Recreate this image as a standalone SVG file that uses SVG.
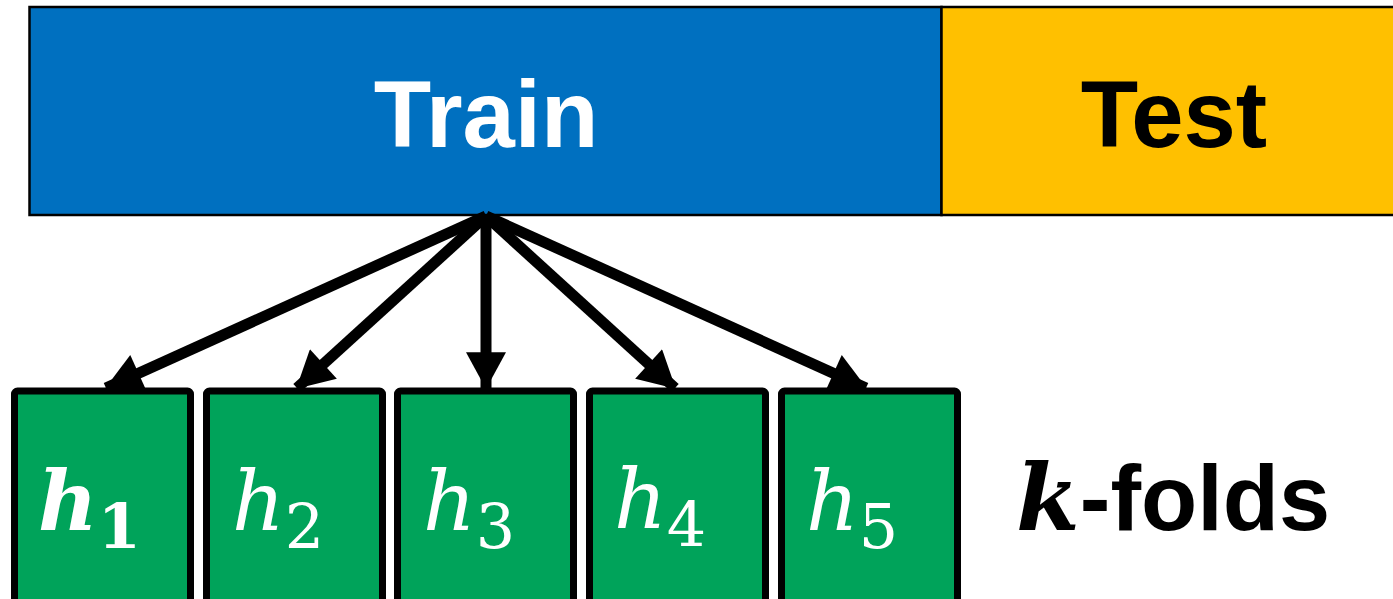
<svg xmlns="http://www.w3.org/2000/svg" width="1393" height="599" viewBox="0 0 1393 599">
<style>
.bar{stroke:#000;stroke-width:2.5}
.lbl{font-family:"Liberation Sans",Arial,sans-serif;font-weight:bold;font-size:94px;text-anchor:middle}
.fold{fill:#00A35A;stroke:#000;stroke-width:7}
.h{font-family:"DejaVu Serif","Liberation Serif",serif;font-style:italic;fill:#fff;font-size:82px}
.sub{font-family:"DejaVu Serif","Liberation Serif",serif;fill:#fff;font-size:62px}
.conn{stroke:#000;stroke-width:11;fill:none;marker-end:url(#ah)}
</style>
<defs>
<marker id="ah" markerUnits="userSpaceOnUse" markerWidth="40" markerHeight="40" viewBox="0 0 34 37" refX="33" refY="18.5" orient="auto">
<path d="M0,0 L34,18.5 L0,37 z" fill="#000"/>
</marker>
</defs>
<g id="train"><rect class="bar" x="29.5" y="7" width="912" height="208" fill="#0070C0"/><text class="lbl" x="486" y="147" fill="#fff">Train</text></g>
<g id="test"><rect class="bar" x="941.5" y="7" width="470" height="208" fill="#FFC000"/><text class="lbl" x="1174" y="147" fill="#000">Test</text></g>
<g id="connectors">
<line class="conn" x1="486" y1="216" x2="106" y2="388"/>
<line class="conn" x1="486" y1="216" x2="297" y2="388"/>
<line class="conn" x1="486" y1="216" x2="486" y2="388"/>
<line class="conn" x1="486" y1="216" x2="675" y2="388"/>
<line class="conn" x1="486" y1="216" x2="866" y2="388"/>
</g>
<g id="h1"><rect class="fold" x="14.5" y="391" width="176" height="220" rx="3"/><text x="38" y="530"><tspan class="h" font-weight="bold">h</tspan><tspan class="sub" font-weight="bold" dy="18">1</tspan></text></g>
<g id="h2"><rect class="fold" x="206.5" y="391" width="176" height="220" rx="3"/><text x="232" y="530"><tspan class="h">h</tspan><tspan class="sub" dy="18">2</tspan></text></g>
<g id="h3"><rect class="fold" x="397.5" y="391" width="176" height="220" rx="3"/><text x="423" y="530"><tspan class="h">h</tspan><tspan class="sub" dy="18">3</tspan></text></g>
<g id="h4"><rect class="fold" x="589.5" y="391" width="176" height="220" rx="3"/><text x="614" y="528"><tspan class="h">h</tspan><tspan class="sub" dy="18">4</tspan></text></g>
<g id="h5"><rect class="fold" x="781.5" y="391" width="176" height="220" rx="3"/><text x="806" y="530"><tspan class="h">h</tspan><tspan class="sub" dy="18">5</tspan></text></g>
<g id="kfolds"><text x="1016" y="530" font-size="92"><tspan font-family="DejaVu Serif,'Liberation Serif',serif" font-style="italic" font-weight="bold">k</tspan><tspan font-family="'Liberation Sans',Arial,sans-serif" font-weight="bold">-folds</tspan></text></g>
</svg>
